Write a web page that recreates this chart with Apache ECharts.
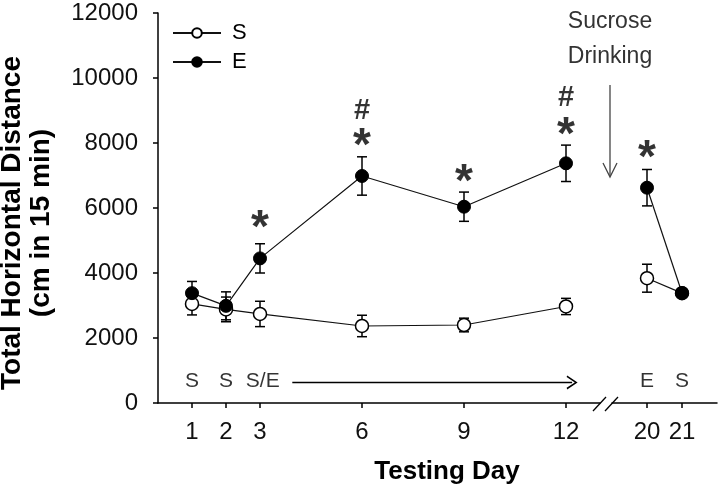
<!DOCTYPE html>
<html><head><meta charset="utf-8">
<script src="https://cdn.jsdelivr.net/npm/echarts@6/dist/echarts.min.js"></script>
<style>html,body{margin:0;padding:0;background:#fff}#c{width:719px;height:495px}</style>
</head><body><div id="c"></div>
<script>
// ---- data ----
const daysA = [1, 2, 3, 6, 9, 12];
const sA    = [3050, 2880, 2740, 2370, 2400, 2970];
const sAerr = [340, 380, 390, 330, 210, 250];
const eA    = [3380, 2990, 4450, 6985, 6040, 7375];
const eAerr = [360, 430, 450, 590, 450, 560];
const daysB = [20, 21];
const sB    = [3840, 3380];
const sBerr = [430, 90];
const eB    = [6625, 3385];
const eBerr = [560, 80];
const tickDaysA = [1, 2, 3, 6, 9, 12];
const tickDaysB = [20, 21];
const starsA  = [[3, 5640], [6, 8185], [9, 7077], [12, 8511]];
const starsB  = [[20, 7794]];
const hashesA = [[6, 8973], [12, 9385]];
const phaseA  = [[1, 'S'], [2, 'S'], [3.08, 'S/E']];
const phaseB  = [[20, 'E'], [21, 'S']];
const phaseY  = 686;
const arrowX  = [3.95, 12.18];
const arrowY  = 634;
const yTitle  = ['Total Horizontal Distance', '(cm in 15 min)'];
const xTitle  = 'Testing Day';
const note    = ['Sucrose', 'Drinking'];

const FF = '"Liberation Sans", Arial, sans-serif';
const chart = echarts.init(document.getElementById('c'), null, {renderer: 'canvas'});

function errSeries(days, vals, errs, idx) {
  return {
    type: 'custom', xAxisIndex: idx, yAxisIndex: idx, z: 1, silent: true,
    data: days.map((d, i) => [d, vals[i] - errs[i], vals[i] + errs[i]]),
    encode: {x: 0, y: [1, 2]},
    renderItem: (params, api) => {
      const lo = api.coord([api.value(0), api.value(1)]);
      const hi = api.coord([api.value(0), api.value(2)]);
      const w = 5, st = {stroke: '#000', lineWidth: 1.5};
      return {type: 'group', children: [
        {type: 'line', shape: {x1: lo[0], y1: lo[1], x2: hi[0], y2: hi[1]}, style: st},
        {type: 'line', shape: {x1: lo[0] - w, y1: lo[1], x2: lo[0] + w, y2: lo[1]}, style: st},
        {type: 'line', shape: {x1: hi[0] - w, y1: hi[1], x2: hi[0] + w, y2: hi[1]}, style: st}
      ]};
    }
  };
}
function lineSeries(name, days, vals, idx, open) {
  return {
    name, type: 'line', xAxisIndex: idx, yAxisIndex: idx, z: open ? 3 : 4,
    data: days.map((d, i) => [d, vals[i]]),
    symbol: 'circle', symbolSize: 13, showSymbol: true,
    lineStyle: {color: '#111', width: 1.2},
    itemStyle: open ? {color: '#fff', borderColor: '#000', borderWidth: 1.5} : {color: '#000', borderColor: '#000', borderWidth: 1},
    emphasis: {disabled: true}
  };
}
function textSeries(pts, y, idx, fontSize, weight, offset) {
  return {
    type: 'scatter', xAxisIndex: idx, yAxisIndex: idx, silent: true, z: 5,
    symbolSize: 1, itemStyle: {color: 'rgba(0,0,0,0)'},
    data: pts.map(p => y === null ? [p[0], p[1], p[2]] : [p[0], y, p[1]]),
    label: {show: true, position: 'inside', offset: offset || [0, 0],
      formatter: p => p.value[2], fontFamily: FF, fontSize, fontWeight: weight, color: '#000'}
  };
}
const starA = starsA.map(p => [p[0], p[1], '*']);
const starB = starsB.map(p => [p[0], p[1], '*']);
const hashA = hashesA.map(p => [p[0], p[1], '#']);

const xAxisCommon = {
  type: 'value', splitLine: {show: false},
  axisLine: {show: true, onZero: false, lineStyle: {color: '#000', width: 1.5}},
  axisTick: {show: true, length: 5, lineStyle: {color: '#000', width: 1.5}},
  axisLabel: {fontFamily: FF, fontSize: 24, color: '#111', margin: 17, formatter: v => String(v)}
};

chart.setOption({
  animation: false,
  backgroundColor: '#fff',
  grid: [
    {left: 158, right: 119, top: 13, bottom: 92},
    {left: 612, right: 2, top: 13, bottom: 92}
  ],
  xAxis: [
    Object.assign({}, xAxisCommon, {gridIndex: 0, min: 0, max: 13,
      axisTick: Object.assign({}, xAxisCommon.axisTick, {customValues: tickDaysA}),
      axisLabel: Object.assign({}, xAxisCommon.axisLabel, {customValues: tickDaysA})}),
    Object.assign({}, xAxisCommon, {gridIndex: 1, min: 19, max: 22,
      axisTick: Object.assign({}, xAxisCommon.axisTick, {customValues: tickDaysB}),
      axisLabel: Object.assign({}, xAxisCommon.axisLabel, {customValues: tickDaysB})})
  ],
  yAxis: [
    {type: 'value', gridIndex: 0, min: 0, max: 12000, interval: 2000, splitLine: {show: false},
     axisLine: {show: true, lineStyle: {color: '#000', width: 1.5}},
     axisTick: {show: true, length: 5, lineStyle: {color: '#000', width: 1.5}},
     axisLabel: {fontFamily: FF, fontSize: 24, color: '#111', margin: 20, formatter: v => String(v)}},
    {type: 'value', gridIndex: 1, min: 0, max: 12000, interval: 2000, show: false}
  ],
  legend: {
    data: ['S', 'E'], orient: 'vertical', left: 172, top: 22, padding: 0,
    itemWidth: 48, itemHeight: 12, itemGap: 7,
    textStyle: {fontFamily: FF, fontSize: 22, color: '#000', padding: [0, 0, 0, 6]}
  },
  series: [
    errSeries(daysA, sA, sAerr, 0),
    errSeries(daysA, eA, eAerr, 0),
    errSeries(daysB, sB, sBerr, 1),
    errSeries(daysB, eB, eBerr, 1),
    lineSeries('S', daysA, sA, 0, true),
    lineSeries('E', daysA, eA, 0, false),
    lineSeries('S', daysB, sB, 1, true),
    lineSeries('E', daysB, eB, 1, false),
    textSeries(starA, null, 0, 46, 'bold', [0, 10]),
    textSeries(starB, null, 1, 46, 'bold', [0, 10]),
    textSeries(hashA, null, 0, 29, 'bold', [0, 0]),
    textSeries(phaseA, phaseY, 0, 21, 'normal', [0, 0]),
    textSeries(phaseB, phaseY, 1, 21, 'normal', [0, 0]),
    {
      type: 'line', xAxisIndex: 0, yAxisIndex: 0, data: [], silent: true,
      markLine: {
        silent: true, animation: false,
        symbol: ['none', 'path://M0,11 L6,0 L12,11 L10.6,11.6 L6,3 L1.4,11.6 Z'],
        symbolSize: [14, 11],
        label: {show: false},
        lineStyle: {color: '#000', width: 1.3, type: 'solid'},
        data: [[{coord: [arrowX[0], arrowY]}, {coord: [arrowX[1], arrowY]}]]
      }
    }
  ],
  graphic: [
    {type: 'text', x: 27, y: 223, rotation: Math.PI / 2,
     style: {text: yTitle.join('\n'), fontFamily: FF, fontSize: 28, fontWeight: 'bold', fill: '#000',
       align: 'center', verticalAlign: 'middle', lineHeight: 29}},
    {type: 'text', x: 447, y: 472,
     style: {text: xTitle, fontFamily: FF, fontSize: 26, fontWeight: 'bold', fill: '#000',
       align: 'center', verticalAlign: 'middle'}},
    {type: 'text', x: 610, y: 22,
     style: {text: note[0], fontFamily: FF, fontSize: 23, fill: '#333', align: 'center', verticalAlign: 'middle'}},
    {type: 'text', x: 610, y: 57,
     style: {text: note[1], fontFamily: FF, fontSize: 23, fill: '#333', align: 'center', verticalAlign: 'middle'}},
    {type: 'line', shape: {x1: 610, y1: 85, x2: 610, y2: 176}, style: {stroke: '#444', lineWidth: 1.3}},
    {type: 'polyline', shape: {points: [[603, 163], [610, 177], [617, 163]]}, style: {stroke: '#444', lineWidth: 1.3, fill: null}},
    {type: 'line', shape: {x1: 593, y1: 411, x2: 606, y2: 397}, style: {stroke: '#000', lineWidth: 1.3}},
    {type: 'line', shape: {x1: 605, y1: 411, x2: 618, y2: 397}, style: {stroke: '#000', lineWidth: 1.3}}
  ]
});
</script></body></html>
